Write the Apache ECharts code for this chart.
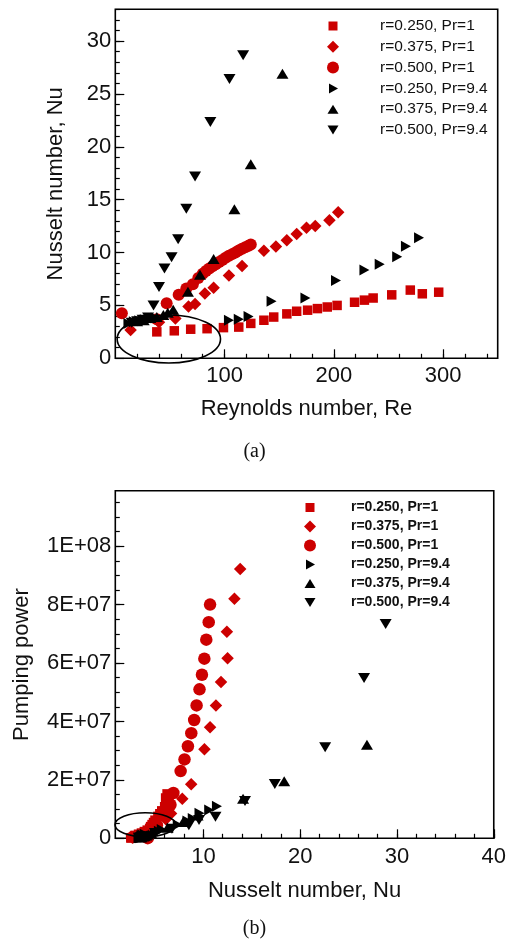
<!DOCTYPE html>
<html><head><meta charset="utf-8">
<script src="https://cdn.jsdelivr.net/npm/echarts@6/dist/echarts.min.js"></script>
<style>html,body{margin:0;padding:0;background:#fff}#c{width:509px;height:945px}</style>
</head><body><div id="c"></div>
<script>
// ---------- data ----------
const seriesNames = ['r=0.250, Pr=1','r=0.375, Pr=1','r=0.500, Pr=1','r=0.250, Pr=9.4','r=0.375, Pr=9.4','r=0.500, Pr=9.4'];

// (a) Nusselt vs Reynolds
const reSq = [38,54,69,84,99,113,124,136,145,157,166,176,185,194,203,219,228,236,253,270,281,296];
const nuSq = [2.5,2.6,2.75,2.8,2.9,2.95,3.3,3.6,3.9,4.2,4.45,4.55,4.7,4.85,5.0,5.3,5.5,5.7,6.0,6.45,6.1,6.25];
const reDi = [14,40,55,67,73,82,90,104,116,136,147,157,166,175,183,196,204];
const nuDi = [2.67,3.4,3.76,4.9,5.13,6.12,6.66,7.82,8.72,10.16,10.58,11.17,11.76,12.35,12.5,13.06,13.82];
const reCi = [6,38,47,58,65,71,76,80,83,86,89,92,95,98,101,104,107,110,113,116,119,122,124];
const nuCi = [4.25,3.7,5.2,6.0,6.6,7.0,7.6,8.0,8.25,8.5,8.7,8.9,9.1,9.3,9.5,9.7,9.85,10.0,10.2,10.35,10.5,10.65,10.75];
const reRt = [12,17,22,27,32,37,104,113,122,143,174,202,228,242,258,266,278];
const nuRt = [3.3,3.45,3.55,3.65,3.75,3.8,3.6,3.7,3.95,5.4,5.7,7.35,8.35,8.9,9.6,10.6,11.4];
const reUp = [20,26,32,38,44,48,53,66.5,77.5,90,109,124,153];
const nuUp = [3.5,3.6,3.8,3.9,4.1,4.3,4.6,6.3,7.9,9.4,14.1,18.35,26.9];
const reDn = [15,20,25,30,35,40,45,51.5,57.5,65,73,87,104.5,117];
const nuDn = [3.35,3.5,3.65,3.85,5.0,6.75,8.5,9.55,11.25,14.15,17.2,22.35,26.4,28.65];

// (b) Pumping power vs Nusselt
const nuSqB = [2.5,2.6,2.75,2.8,2.9,2.95,3.3,3.6,3.9,4.2,4.45,4.55,4.7,4.85,5.0,5.3,5.5,5.7,6.0,6.45,6.1,6.25];
const ppSq  = [1e5,2e5,4e5,6e5,8e5,1.0e6,1.4e6,1.8e6,2.3e6,2.8e6,3.4e6,4.0e6,4.7e6,5.4e6,6.2e6,7.5e6,8.4e6,9.4e6,1.08e7,1.25e7,1.38e7,1.52e7];
const nuDiB = [2.67,3.4,3.76,4.9,5.13,6.12,6.66,7.82,8.74,10.11,10.69,11.3,11.82,12.5,12.43,13.21,13.8];
const ppDi  = [2e5,1.0e6,1.8e6,3.5e6,4.2e6,6.5e6,8.5e6,1.35e7,1.85e7,3.05e7,3.8e7,4.55e7,5.35e7,6.16e7,7.07e7,8.2e7,9.22e7];
const nuCiB = [4.25,3.7,5.2,6.0,6.6,6.9,7.65,8.05,8.4,8.75,9.05,9.3,9.6,9.85,10.1,10.3,10.55,10.69];
const ppCi  = [5e4,1.2e6,4.5e6,8e6,1.15e7,1.55e7,2.3e7,2.7e7,3.15e7,3.6e7,4.05e7,4.55e7,5.1e7,5.6e7,6.15e7,6.8e7,7.4e7,8.0e7];
const nuRtB = [3.3,3.45,3.55,3.65,3.75,3.8,3.6,3.7,3.95,5.4,5.7,7.35,8.35,8.9,9.6,10.6,11.4];
const ppRt  = [1e5,2e5,3e5,4e5,5e5,6e5,9e5,1.1e6,1.4e6,2.4e6,3.0e6,4.6e6,5.9e6,6.8e6,8.6e6,9.7e6,1.1e7];
const nuUpB = [3.5,3.6,3.8,3.9,4.1,4.3,4.6,6.3,7.9,9.4,14.1,18.35,26.9];
const ppUp  = [3e5,4e5,6e5,8e5,1.0e6,1.3e6,1.7e6,3.6e6,5.6e6,7.8e6,1.35e7,1.95e7,3.2e7];
const nuDnB = [3.35,3.5,3.65,3.85,5.0,6.75,8.5,9.55,11.25,14.3,17.38,22.58,26.6,28.83];
const ppDn  = [2e5,3e5,5e5,7e5,1.8e6,3.3e6,4.5e6,6.3e6,7.4e6,1.28e7,1.86e7,3.12e7,5.49e7,7.34e7];

// tick labels
const xTicksA = [100,200,300];
const yTicksA = [0,5,10,15,20,25,30];
const xTicksB = [10,20,30,40];
const yTicksB = [0,2e7,4e7,6e7,8e7,1e8];
const yTickTextB = ['0','2E+07','4E+07','6E+07','8E+07','1E+08'];

// ---------- chart ----------
const FONT = "'Liberation Sans', Arial, sans-serif";
const RED = '#cc0000', BLK = '#000000';
const zip = (a,b) => a.map((v,i)=>[v,b[i]]);
function range(a,b,s){const r=[];for(let v=a;v<=b+1e-9;v+=s)r.push(+v.toFixed(6));return r;}

const PATH_RT = 'path://M0,0L10,5L0,10Z';
const PATH_DN = 'path://M0,0L11,0L5.5,9Z';
const symbols = [
  {symbol:'rect', size:9.5, color:RED},
  {symbol:'diamond', size:12.5, color:RED},
  {symbol:'circle', size:12, color:RED},
  {symbol:PATH_RT, size:[10,11], color:BLK},
  {symbol:'triangle', size:[12,10], color:BLK},
  {symbol:PATH_DN, size:[12,10], color:BLK}
];
const symbolsB = [
  {symbol:'rect', size:9.5}, {symbol:'diamond', size:12.5}, {symbol:'circle', size:12.5},
  {symbol:PATH_RT, size:[10,11]}, {symbol:'triangle', size:[12,10]}, {symbol:PATH_DN, size:[12,10]}
];
const legendIcons = [
  'path://M0,0M12,12M1.5,1.5H10.5V10.5H1.5Z',
  'diamond',
  'circle',
  'path://M0,0M12,12M2,1L11,6L2,11Z',
  'path://M0,0M12,12M0.5,10.5L6,1.5L11.5,10.5Z',
  'path://M0,0M12,12M0.5,1.5L11.5,1.5L6,10.5Z'
];
const dataA = [zip(reSq,nuSq), zip(reDi,nuDi), zip(reCi,nuCi), zip(reRt,nuRt), zip(reUp,nuUp), zip(reDn,nuDn)];
const dataB = [zip(nuSqB,ppSq), zip(nuDiB,ppDi), zip(nuCiB,ppCi), zip(nuRtB,ppRt), zip(nuUpB,ppUp), zip(nuDnB,ppDn)];

const series = [];
dataA.forEach((d,i)=>series.push({type:'scatter', name:seriesNames[i], xAxisIndex:0, yAxisIndex:0, data:d,
  symbol:symbols[i].symbol, symbolSize:symbols[i].size, itemStyle:{color:symbols[i].color, opacity:1}, emphasis:{disabled:true}, z:i<3?2:3}));
dataB.forEach((d,i)=>series.push({type:'scatter', name:seriesNames[i], xAxisIndex:2, yAxisIndex:2, data:d,
  symbol:symbolsB[i].symbol, symbolSize:symbolsB[i].size, itemStyle:{color:symbols[i].color, opacity:1}, emphasis:{disabled:true}, z:i<3?2:3}));

const tickLine = {color:'#000', width:1.2};
const labelStyle = {fontFamily:FONT, fontSize:22, color:'#111'};
const nameStyle = {fontFamily:FONT, fontSize:22, color:'#111'};

function majorAxis(grid, min, max, ticks, pos, fmt, margin, name, nameGap){
  return {type:'value', gridIndex:grid, min, max, position:pos,
    axisLine:{show:false, onZero:false}, splitLine:{show:false},
    axisTick:{show:true, inside:true, length:9, lineStyle:tickLine, customValues:ticks},
    axisLabel:Object.assign({show:true, customValues:ticks, margin, formatter:fmt, hideOverlap:false}, labelStyle),
    name, nameLocation:'middle', nameGap, nameTextStyle:nameStyle};
}
function minorAxis(grid, min, max, ticks, pos){
  return {type:'value', gridIndex:grid, min, max, position:pos,
    axisLine:{show:false, onZero:false}, splitLine:{show:false},
    axisTick:{show:true, inside:true, length:4.5, lineStyle:tickLine, customValues:ticks},
    axisLabel:{show:false}};
}

const option = {
  animation:false,
  backgroundColor:'#fff',
  grid:[
    {left:115.3, top:9.3, width:382.4, height:349, show:true, borderColor:'#000', borderWidth:1.6, backgroundColor:'transparent'},
    {left:115.3, top:490.7, width:382.4, height:347.6, show:true, borderColor:'#000', borderWidth:1.6, backgroundColor:'transparent'}
  ],
  xAxis:[
    majorAxis(0, 0, 350, xTicksA, 'bottom', v=>String(v), 7, 'Reynolds number, Re', 40),
    minorAxis(0, 0, 350, range(20,340,20), 'bottom'),
    majorAxis(1, 0.9, 40, xTicksB, 'bottom', v=>String(v), 8, 'Nusselt number, Nu', 42),
    minorAxis(1, 0.9, 40, range(2,40,2), 'bottom')
  ],
  yAxis:[
    majorAxis(0, 0, 33, yTicksA, 'left', v=>String(v), 4, 'Nusselt number, Nu', 48),
    minorAxis(0, 0, 33, range(1,33,1), 'left'),
    majorAxis(1, 0, 1.19e8, yTicksB, 'left', v=>{const k=yTicksB.indexOf(v);return k>=0?yTickTextB[k]:'';}, 4, 'Pumping power', 82),
    minorAxis(1, 0, 1.19e8, range(5e6,1.15e8,5e6), 'left')
  ],
  legend:[
    {orient:'vertical', left:327, top:18, itemWidth:12, itemHeight:12, itemGap:4.8, padding:0, selectedMode:false,
     textStyle:{fontFamily:FONT, fontSize:15.5, color:'#111', padding:[0,0,0,36], lineHeight:16},
     data:seriesNames.map((n,i)=>({name:n, icon:legendIcons[i]}))},
    {orient:'vertical', left:304, top:500, itemWidth:12, itemHeight:12, itemGap:4, padding:0, selectedMode:false,
     textStyle:{fontFamily:FONT, fontSize:14, fontWeight:'bold', color:'#111', padding:[0,0,0,30], lineHeight:15},
     data:seriesNames.map((n,i)=>({name:n, icon:legendIcons[i]}))}
  ],
  series
};

const chart = echarts.init(document.getElementById('c'), null, {renderer:'canvas'});
chart.setOption(option);

// annotation ellipses placed in data coordinates
function ellipseAt(gridIndex, cx, cy, rx, ry){
  const c = chart.convertToPixel({gridIndex}, [cx, cy]);
  const e = chart.convertToPixel({gridIndex}, [cx+rx, cy+ry]);
  return {type:'ellipse', shape:{cx:c[0], cy:c[1], rx:Math.abs(e[0]-c[0]), ry:Math.abs(e[1]-c[1])},
    style:{fill:'none', stroke:'#000', lineWidth:1.6}, z:10, silent:true};
}
chart.setOption({graphic:[
  ellipseAt(0, 49, 1.82, 47.3, 2.27),
  ellipseAt(1, 4.0, 4.66e6, 3.13, 4.1e6),
  {type:'text', left:'center', top:442, style:{text:'(a)', font:"20px 'Liberation Serif', 'Times New Roman', serif", fill:'#111'}},
  {type:'text', left:'center', top:919, style:{text:'(b)', font:"20px 'Liberation Serif', 'Times New Roman', serif", fill:'#111'}}
]});
</script>
</body></html>
